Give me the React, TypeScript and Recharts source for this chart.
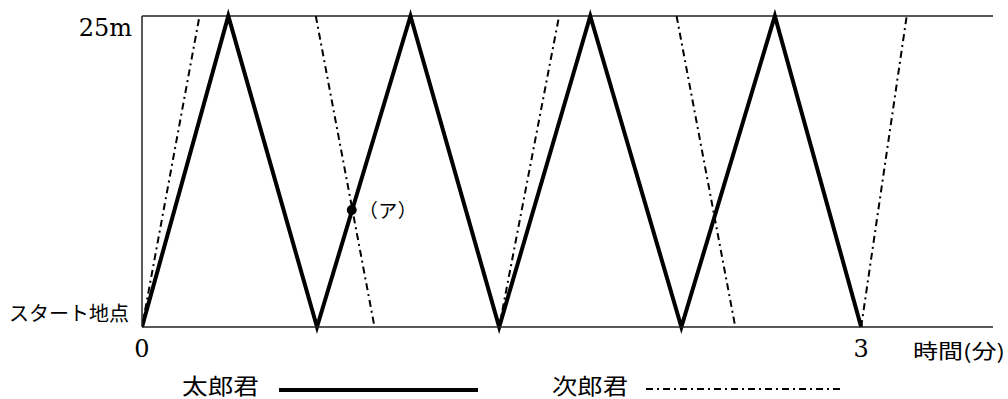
import { LineChart, Line, XAxis, YAxis, ReferenceLine, ReferenceDot } from 'recharts';

// Time in minutes, distance from start in metres
const taroTime = [0, 0.36, 0.73, 1.12, 1.49, 1.87, 2.25, 2.64, 3.0];
const taroDist = [0, 25, 0, 25, 0, 25, 0, 25, 0];

// Jiro: only the swimming legs show (his rests lie on the frame lines)
const jiroLegStart = [0, 0.725, 1.49, 2.23, 3.0];
const jiroLegEnd = [0.24, 0.97, 1.74, 2.475, 3.19];
const jiroLegFrom = [0, 25, 0, 25, 0];
const jiroLegTo = [25, 0, 25, 0, 25];

const xTicks = [0, 3];
const yTicks = [0, 25];
const yTickLabels: Record<number, string> = { 0: 'スタート地点', 25: '25m' };

// point (ア): where the two swimmers cross
const pointA = { t: 0.875, d: 9.4, label: '（ア）' };

const seriesNames = ['太郎君', '次郎君'];

const taroData = taroTime.map((t, i) => ({ t, d: taroDist[i] }));
const jiroData: { t: number; d: number | null }[] = [];
jiroLegStart.forEach((t, i) => {
  jiroData.push({ t, d: jiroLegFrom[i] });
  jiroData.push({ t: jiroLegEnd[i], d: jiroLegTo[i] });
  jiroData.push({ t: jiroLegEnd[i], d: null });
});

const JP = '"Noto Sans CJK JP", sans-serif';
const SERIF = '"DejaVu Serif", serif';

const XTick = ({ x, y, payload }: any) => (
  <text x={x} y={y + 30} textAnchor="middle" fontFamily={SERIF} fontSize={24} fill="#000">
    {payload.value}
  </text>
);

const YTick = ({ x, y, payload }: any) => {
  if (payload.value === 25) {
    return (
      <text x={x - 10} y={y + 20} textAnchor="end" fontFamily={SERIF} fontSize={24} fill="#000">
        {yTickLabels[25]}
      </text>
    );
  }
  return (
    <text x={x - 13} y={y - 6} textAnchor="end" fontFamily={JP} fontSize={20} fill="#000">
      {yTickLabels[payload.value]}
    </text>
  );
};

const AxisName = ({ viewBox }: any) => (
  <text
    x={viewBox.x + viewBox.width - 80}
    y={viewBox.y + 32}
    fontFamily={JP}
    fontSize={20}
    fill="#000"
    textLength={92}
    lengthAdjust="spacingAndGlyphs"
  >
    時間(分)
  </text>
);

const DotLabel = ({ viewBox }: any) => {
  const cx = viewBox.x + (viewBox.width || 0) / 2;
  const cy = viewBox.y + (viewBox.height || 0) / 2;
  return (
    <text x={cx + 7} y={cy + 8} fontFamily={JP} fontSize={19} fill="#000" textLength={58} lengthAdjust="spacing">
      {pointA.label}
    </text>
  );
};

const App = () => {
  return (
    <div style={{ position: 'absolute', left: 0, top: 0, width: 1008, height: 399, background: '#fff' }}>
      <LineChart width={1008} height={399} margin={{ top: 16, right: 15, left: 0, bottom: 0 }}>
        <XAxis
          dataKey="t"
          type="number"
          domain={[0, 3.55]}
          allowDataOverflow
          ticks={xTicks}
          tickSize={0}
          tickMargin={0}
          tickLine={false}
          tick={<XTick />}
          height={72}
          axisLine={{ stroke: '#222', strokeWidth: 1.5 }}
          label={<AxisName />}
        />
        <YAxis
          dataKey="d"
          type="number"
          domain={[0, 25]}
          ticks={yTicks}
          tickSize={0}
          tickMargin={0}
          tickLine={false}
          tick={<YTick />}
          width={142}
          axisLine={{ stroke: '#222', strokeWidth: 1.5 }}
        />
        <ReferenceLine y={25} stroke="#222" strokeWidth={1.5} />
        <Line
          data={jiroData}
          dataKey="d"
          type="linear"
          stroke="#000"
          strokeWidth={2}
          strokeDasharray="7 4 2 4"
          dot={false}
          connectNulls={false}
          isAnimationActive={false}
        />
        <Line
          data={taroData}
          dataKey="d"
          type="linear"
          stroke="#000"
          strokeWidth={4}
          dot={false}
          isAnimationActive={false}
        />
        <ReferenceDot x={pointA.t} y={pointA.d} r={5} fill="#000" stroke="none" label={<DotLabel />} />
      </LineChart>
      <svg width={1008} height={30} style={{ position: 'absolute', left: 0, top: 369 }}>
        <text x={182} y={25} fontFamily={JP} fontSize={22} fill="#000" textLength={77} lengthAdjust="spacingAndGlyphs">
          {seriesNames[0]}
        </text>
        <line x1={279} x2={478} y1={21} y2={21} stroke="#000" strokeWidth={4} />
        <text x={552} y={25} fontFamily={JP} fontSize={22} fill="#000" textLength={76} lengthAdjust="spacingAndGlyphs">
          {seriesNames[1]}
        </text>
        <line x1={646} x2={843} y1={20} y2={20} stroke="#000" strokeWidth={2} strokeDasharray="7 4 2 4" />
      </svg>
    </div>
  );
};

export default App;
